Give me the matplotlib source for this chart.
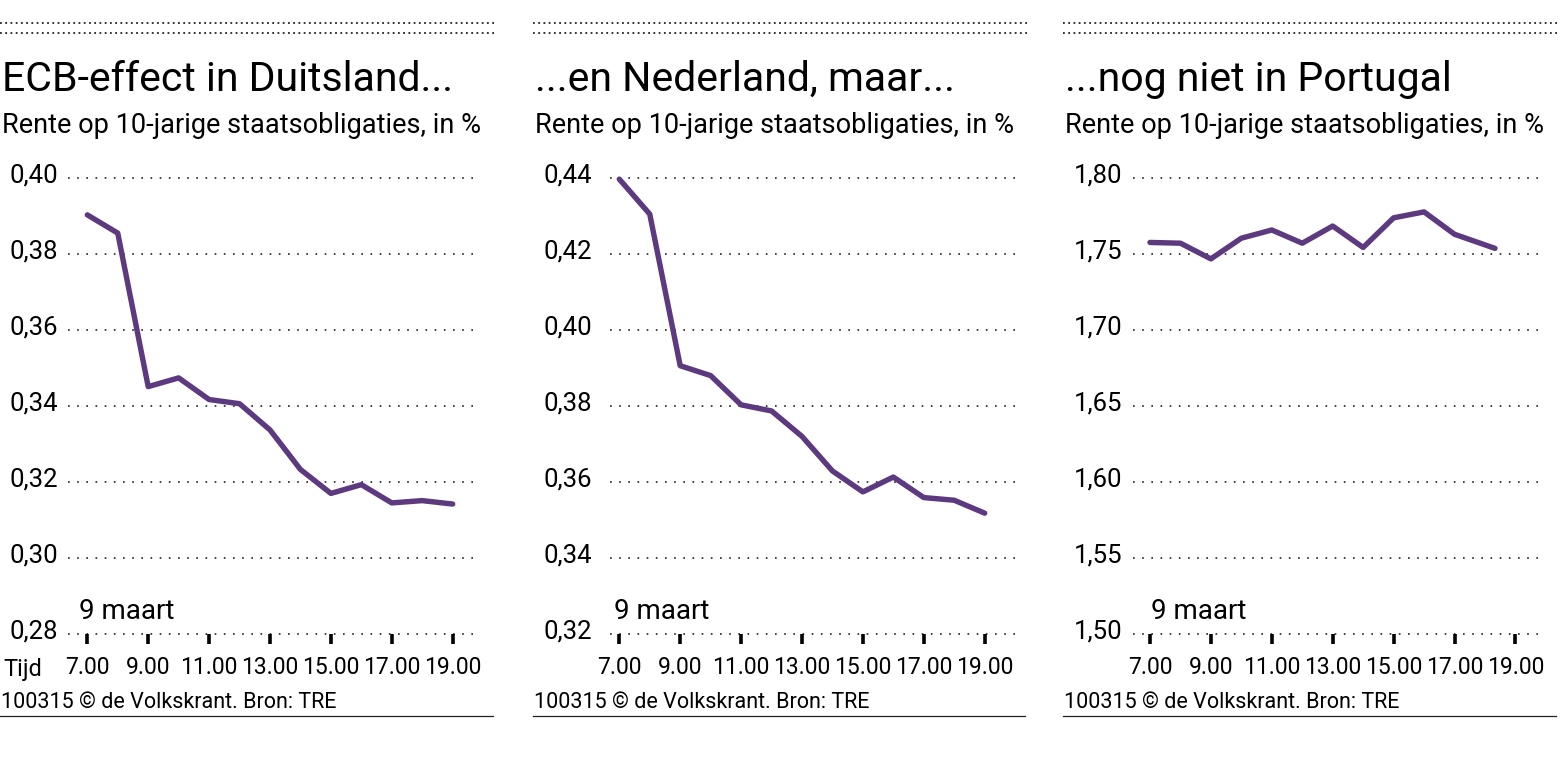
import matplotlib.pyplot as plt
from matplotlib.lines import Line2D

plt.rcParams['font.family'] = ['Roboto', 'DejaVu Sans']
plt.rcParams['font.weight'] = 'normal'

# data (rente 10-jarige staatsobligaties, 9 maart)
uren = [7, 8, 9, 10, 11, 12, 13, 14, 15, 16, 17, 18, 19]
duitsland = [0.3903, 0.3855, 0.3451, 0.3474, 0.3417, 0.3406, 0.3337,
             0.3233, 0.3170, 0.3193, 0.3145, 0.3151, 0.3142]
nederland = [0.4397, 0.4305, 0.3906, 0.3880, 0.3803, 0.3787, 0.3720,
             0.3629, 0.3574, 0.3613, 0.3559, 0.3552, 0.3518]
uren_pt = [7, 8, 9, 10, 11, 12, 13, 14, 15, 16, 17, 18.33]
portugal = [1.7576, 1.7571, 1.7468, 1.7604, 1.7658, 1.7571, 1.7684,
            1.7543, 1.7738, 1.7777, 1.7630, 1.7537]

yticks_de = [0.28, 0.30, 0.32, 0.34, 0.36, 0.38, 0.40]
yticks_nl = [0.32, 0.34, 0.36, 0.38, 0.40, 0.42, 0.44]
yticks_pt = [1.50, 1.55, 1.60, 1.65, 1.70, 1.75, 1.80]

xticks = [7, 9, 11, 13, 15, 17, 19]
xticklabels = ['7.00', '9.00', '11.00', '13.00', '15.00', '17.00', '19.00']

titels = ['ECB-effect in Duitsland...', '...en Nederland, maar...', '...nog niet in Portugal']
subtitel = 'Rente op 10-jarige staatsobligaties, in %'
datum = '9 maart'
bron = '100315 \u00a9 de Volkskrant. Bron: TRE'

paars = '#5d3a7f'

W, H = 1562, 766
fig = plt.figure(figsize=(W / 100, H / 100), dpi=100)

def fx(px):
    return px / W

def fy(py):
    return 1 - py / H

# layout per panel in pixels
panels = [
    dict(x=uren, y=duitsland, yt=yticks_de, bl=0, br=495, gl=68, t7=87.3, gr=478, lr=58, mx=80, tijd=True),
    dict(x=uren, y=nederland, yt=yticks_nl, bl=533, br=1027, gl=610, t7=619.3, gr=1018.3, lr=592, mx=615, tijd=False),
    dict(x=uren_pt, y=portugal, yt=yticks_pt, bl=1063, br=1558, gl=1132.7, t7=1150, gr=1541.7, lr=1122, mx=1152, tijd=False),
]
px_per_uur = 30.45
top_px, bot_px = 178, 634

for p, titel in zip(panels, titels):
    # dotted header (two rows)
    for yy in (23, 33):
        fig.add_artist(Line2D([fx(p['bl']), fx(p['br'])], [fy(yy), fy(yy)],
                              color='#222222', lw=1.3, linestyle=(0, (1, 1.9))))
    # bottom rule
    fig.add_artist(Line2D([fx(p['bl']), fx(p['br'] - 2)], [fy(716), fy(716)],
                          color='#222222', lw=0.9))

    fig.text(fx(p['bl'] + 2), fy(90.7), titel, fontsize=29.5, va='baseline', ha='left')
    fig.text(fx(p['bl'] + 2), fy(132.7), subtitel, fontsize=19.5, va='baseline', ha='left')
    fig.text(fx(p['bl'] + 1), fy(708), bron, fontsize=15.5, va='baseline', ha='left')
    fig.text(fx(p['mx'] - 1), fy(619), datum, fontsize=20, va='baseline', ha='left')
    if p['tijd']:
        fig.text(fx(3), fy(676), 'Tijd', fontsize=17, va='baseline', ha='left')

    ax = fig.add_axes([fx(p['gl']), fy(bot_px), fx(p['gr'] - p['gl']), (bot_px - top_px) / H])
    xmin = 7 - (p['t7'] - p['gl']) / px_per_uur
    xmax = 7 + (p['gr'] - p['t7']) / px_per_uur
    ax.set_xlim(xmin, xmax)
    ax.set_ylim(p['yt'][0], p['yt'][-1])

    for v in p['yt']:
        ax.axhline(v, color='#222222', lw=1.2, linestyle=(0, (1, 4.5)), clip_on=False, zorder=1)
        ax.annotate(f'{v:.2f}'.replace('.', ','), xy=(xmin, v),
                    xytext=(-(p['gl'] - p['lr']) * 0.72, -4 * 0.72), textcoords='offset points',
                    ha='right', va='baseline', fontsize=18.5)

    ax.plot(p['x'], p['y'], color=paars, lw=3.9, solid_capstyle='round',
            solid_joinstyle='round', clip_on=False, zorder=3)

    for s in ax.spines.values():
        s.set_visible(False)
    ax.set_xticks(xticks, xticklabels)
    ax.tick_params(axis='x', length=7, width=2.6, pad=9, labelsize=16.5, color='black')
    ax.tick_params(axis='y', left=False, labelleft=False)
    ax.patch.set_alpha(0)

fig.savefig('out.png', dpi=100, facecolor='white')
